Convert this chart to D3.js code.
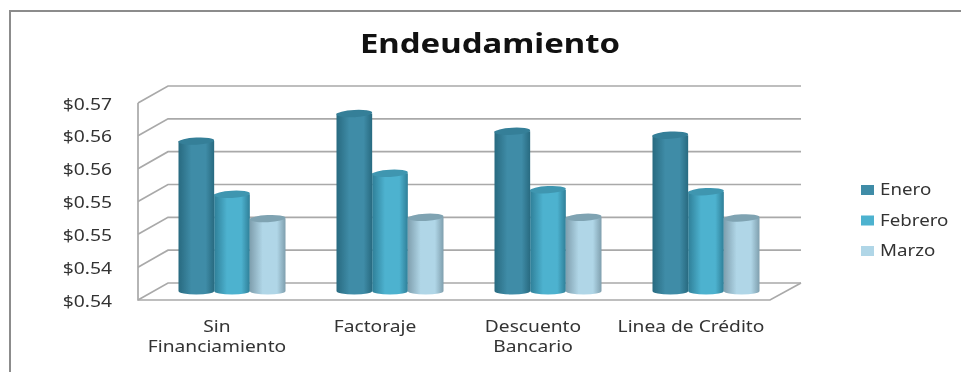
<!DOCTYPE html>
<html><head><meta charset="utf-8">
<script src="https://cdnjs.cloudflare.com/ajax/libs/d3/7.8.5/d3.min.js"></script>
<style>html,body{margin:0;padding:0;background:#fff}svg{display:block;filter:blur(0.4px)}text{font-family:"Noto Sans",sans-serif;fill:#333}</style>
</head><body><div id="c"></div>
<script>
const categories=[["Sin","Financiamiento"],["Factoraje"],["Descuento","Bancario"],["Linea de Crédito"]];
const seriesNames=["Enero","Febrero","Marzo"];
const enero=[0.5629,0.5671,0.5644,0.5638];
const febrero=[0.5548,0.5580,0.5555,0.5552];
const marzo=[0.5511,0.5513,0.5513,0.5512];
const tickValues=[0.54,0.545,0.55,0.555,0.56,0.565,0.57];
const tickLabels=["$0.54","$0.54","$0.55","$0.55","$0.56","$0.56","$0.57"];
const seriesData=[enero,febrero,marzo];
const base=["#3f8ca7","#4db2cf","#b0d6e7"];
const edge=["#286a80","#2f7f98","#7f9fae"];
const topc=["#357f98","#3f96b0","#7fa3b2"];

const W=961,H=372;
const svg=d3.select("#c").append("svg").attr("width",W).attr("height",H);
const defs=svg.append("defs");
seriesNames.forEach((n,i)=>{
  const g=defs.append("linearGradient").attr("id","g"+i);
  [[0,edge[i]],[.36,base[i]],[.76,base[i]],[1,edge[i]]].forEach(s=>g.append("stop").attr("offset",s[0]).attr("stop-color",s[1]));
});
const dx=30,dy=-17;
const y=d3.scaleLinear().domain([0.54,0.57]).range([300,103]);
const x0=d3.scaleBand().domain(categories.map((c,i)=>i)).range([138,770]);
const x1=d3.scaleBand().domain(seriesNames).range([0,107]);

// text stretched horizontally about its anchor point
function label(px,py,size,sx,anchor,str,weight,color){
  const t=svg.append("text")
    .attr("transform",`translate(${px},${py}) scale(${sx},1)`)
    .attr("text-anchor",anchor).attr("font-size",size).text(str);
  if(weight) t.attr("font-weight",weight);
  if(color) t.style("fill",color);
  return t;
}

// frame
svg.append("path").attr("d",`M${W},11H10V${H}`).attr("fill","none").attr("stroke","#8c8c8c").attr("stroke-width",2);

// title
label(490,53,27,1.22,"middle","Endeudamiento",700,"#111");

// walls
const wall="#a9a9a9";
const grid=svg.append("g").attr("fill","none").attr("stroke",wall).attr("stroke-width",1.7);
tickValues.forEach(v=>{
  const yy=y(v);
  grid.append("path").attr("d",`M138,${yy}L${138+dx},${yy+dy}H801`);
});
grid.append("path").attr("d",`M138,${y(.57)}V300H770L801,${300+dy}`);

// y labels
tickValues.forEach((v,i)=>{
  label(112,y(v)+6.5,16.5,1.17,"end",tickLabels[i]);
});

// bars
const ry=3.6,ox=dx/2,oy=dy/2;
categories.forEach((c,ci)=>{
  const gx=x0(ci)+x0.bandwidth()/2+ox-53.5;
  seriesNames.forEach((n,si)=>{
    const v=seriesData[si][ci];
    const l=gx+x1(n), r=l+x1.bandwidth(), cx=(l+r)/2, a=(r-l)/2;
    const top=y(v)+oy, bot=y(0.54)+oy-0.5;
    const g=svg.append("g");
    g.append("path").attr("d",`M${l},${top}V${bot}A${a},${ry} 0 0 0 ${r},${bot}V${top}Z`).attr("fill",`url(#g${si})`);
    g.append("ellipse").attr("cx",cx).attr("cy",top).attr("rx",a).attr("ry",ry).attr("fill",topc[si])
      .attr("transform",`rotate(-3 ${cx} ${top})`);
  });
  c.forEach((line,li)=>{
    label(x0(ci)+x0.bandwidth()/2,332+li*20,16,1.2,"middle",line);
  });
});

// legend
seriesNames.forEach((n,i)=>{
  const yy=[190,220.5,251][i];
  svg.append("rect").attr("x",861).attr("y",yy-5).attr("width",13).attr("height",10).attr("fill",base[i]);
  label(880,yy+5,16,1.17,"start",n);
});
</script></body></html>
